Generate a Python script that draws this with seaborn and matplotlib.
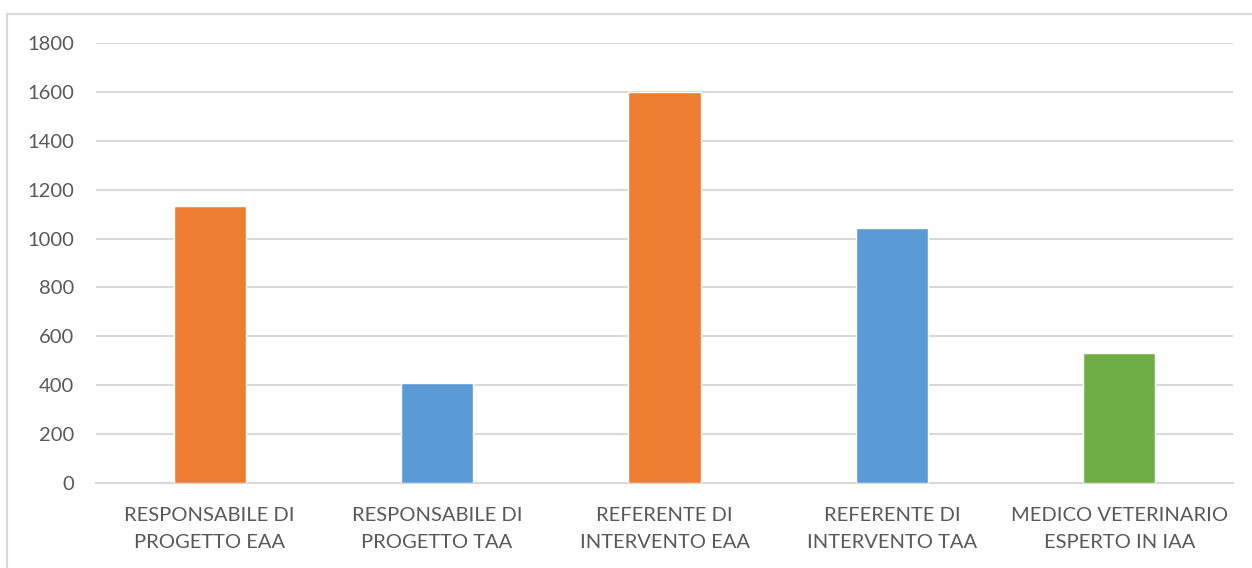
import matplotlib
matplotlib.use("Agg")
import matplotlib.pyplot as plt
from matplotlib.patches import Rectangle
import seaborn as sns
import pandas as pd

# Figure data
categories = [
    "RESPONSABILE DI\nPROGETTO EAA",
    "RESPONSABILE DI\nPROGETTO TAA",
    "REFERENTE DI\nINTERVENTO EAA",
    "REFERENTE DI\nINTERVENTO TAA",
    "MEDICO VETERINARIO\nESPERTO IN IAA",
]
values = [1133, 409, 1600, 1042, 532]
bar_colors = ["#ED7D31", "#5B9BD5", "#ED7D31", "#5B9BD5", "#70AD47"]
y_ticks = [0, 200, 400, 600, 800, 1000, 1200, 1400, 1600, 1800]

sns.set_theme(style="white")
plt.rcParams["font.family"] = ["Lato", "DejaVu Sans"]

df = pd.DataFrame({"categoria": categories, "valore": values})

W, H = 1252, 568
fig = plt.figure(figsize=(W / 100, H / 100), dpi=100)
ax = fig.add_axes([96 / W, 1 - 483 / H, (1233 - 96) / W, (483 - 43) / H])

sns.barplot(
    data=df, x="categoria", y="valore", hue="categoria",
    palette=bar_colors, width=0.317, legend=False, ax=ax,
    saturation=1, zorder=3,
)

ax.set_ylim(0, 1800)
ax.set_yticks(y_ticks)
ax.set_yticklabels([str(t) for t in y_ticks])
ax.set_xlim(-0.5, len(categories) - 0.5)
ax.set_xlabel("")
ax.set_ylabel("")

grid_color = "#D9D9D9"
ax.yaxis.grid(True, color=grid_color, linewidth=1.5, zorder=0)
ax.xaxis.grid(False)
for side in ["top", "right", "left"]:
    ax.spines[side].set_visible(False)
ax.spines["bottom"].set_color(grid_color)
ax.spines["bottom"].set_linewidth(1.5)
ax.spines["bottom"].set_zorder(2)

ax.tick_params(axis="y", length=0, pad=16, labelsize=14.5, labelcolor="#595959")
ax.tick_params(axis="x", length=0, pad=17, labelsize=14.5, labelcolor="#595959")
for lbl in ax.get_xticklabels():
    lbl.set_horizontalalignment("center")
    lbl.set_multialignment("center")
    lbl.set_linespacing(1.75)

# Chart area frame
fig.patches.append(
    Rectangle((7 / W, -0.1), 1.1, 1 - 13.5 / H + 0.1, transform=fig.transFigure,
              fill=False, edgecolor="#D9D9D9", linewidth=1.5, zorder=0)
)

fig.savefig("out.png", dpi=100, facecolor="white")
